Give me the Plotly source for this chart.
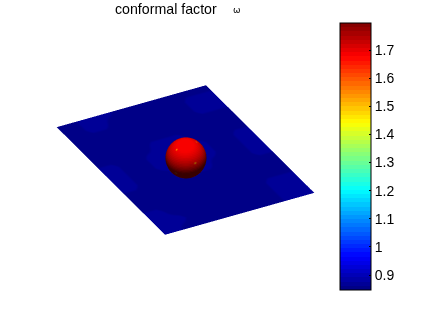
import numpy as np
import plotly.graph_objects as go

# colour values read from the plane, rows run from the top-right edge to the bottom-left edge
PLANE_VALUES = [
    [.85,.85,.87,.87,.87,.85,.85,.85,.85,.85,.85,.85,.85],
    [.85,.85,.87,.87,.85,.85,.85,.85,.85,.85,.87,.87,.87],
    [.85,.85,.85,.85,.85,.85,.85,.85,.85,.85,.87,.87,.87],
    [.85,.85,.85,.85,.85,.85,.85,.85,.85,.85,.85,.85,.85],
    [.85,.85,.85,.85,.85,.87,.87,.87,.85,.85,.85,.85,.85],
    [.87,.87,.85,.85,.87,.87,.87,.87,.87,.85,.85,.87,.87],
    [.87,.87,.85,.85,.87,.87,.87,.87,.87,.85,.85,.87,.87],
    [.87,.87,.85,.85,.85,.87,.87,.87,.85,.85,.85,.87,.87],
    [.85,.85,.85,.85,.85,.85,.85,.85,.85,.85,.85,.85,.85],
    [.85,.85,.85,.85,.85,.85,.85,.85,.85,.85,.85,.85,.85],
    [.87,.87,.85,.85,.85,.85,.85,.85,.85,.85,.87,.87,.87],
    [.87,.87,.87,.85,.85,.85,.85,.85,.85,.85,.87,.87,.87],
    [.87,.87,.85,.85,.85,.85,.85,.85,.85,.85,.87,.87,.87],
]
PLANE_X = [-.733,-.611,-.489,-.367,-.244,-.122,0,.122,.244,.367,.489,.611,.733]
PLANE_Y = [1,.833,.667,.5,.333,.167,0,-.167,-.333,-.5,-.667,-.833,-1]
PLANE_Z = [[0]*13]*13

SPHERE_VALUE = 1.675
SPHERE_SPECK_VALUE = 1.5
SPHERE_SPECK_CELLS = [(27, 9), (3, 7), (15, 17), (25, 25)]
SPHERE_CENTER = [-.12, -.234, .185]
SPHERE_RADIUS = .178

CMIN, CMAX = .847, 1.796
TICK_VALUES = [.9, 1, 1.1, 1.2, 1.3, 1.4, 1.5, 1.6, 1.7]
TICK_LABELS = ["0.9", "1", "1.1", "1.2", "1.3", "1.4", "1.5", "1.6", "1.7"]
TITLE = "conformal factor"
SYMBOL = "ω"


def jet_step_scale(n=64):
    def ch(t):
        return min(1, max(0, 1.5 - abs(4 * t)))
    scale = []
    for i in range(n):
        t = (i + .5) / n
        r, g, b = ch(t - .75), ch(t - .5), ch(t - .25)
        c = f"rgb({round(r*255)},{round(g*255)},{round(b*255)})"
        scale += [[i / n, c], [(i + 1) / n, c]]
    return scale


JET = jet_step_scale()

u = np.linspace(2 * np.pi, 0, 61)
v = np.linspace(0, np.pi, 41)
sx = SPHERE_CENTER[0] + SPHERE_RADIUS * np.outer(np.cos(u), np.sin(v))
sy = SPHERE_CENTER[1] + SPHERE_RADIUS * np.outer(np.sin(u), np.sin(v))
sz = SPHERE_CENTER[2] + SPHERE_RADIUS * np.outer(np.ones_like(u), np.cos(v))
sc = np.full_like(sx, SPHERE_VALUE)
for i, j in SPHERE_SPECK_CELLS:
    sc[i, j] = SPHERE_SPECK_VALUE

fig = go.Figure()
fig.add_trace(go.Surface(
    x=PLANE_X, y=PLANE_Y, z=PLANE_Z, surfacecolor=PLANE_VALUES,
    colorscale=JET, cmin=CMIN, cmax=CMAX, showscale=True,
    lighting=dict(ambient=1, diffuse=0, specular=0, fresnel=0),
    colorbar=dict(
        x=340/436, xanchor="left", xref="paper", y=1-23/327, yanchor="top", yref="paper",
        len=267/327, lenmode="fraction", thickness=31, thicknessmode="pixels",
        tickmode="array", tickvals=TICK_VALUES, ticktext=TICK_LABELS,
        ticks="inside", ticklen=2, tickcolor="black", outlinecolor="black", outlinewidth=1,
        borderwidth=0, xpad=0, ypad=0,
        tickfont=dict(family="Liberation Sans", size=14, color="black"),
    ),
))
fig.add_trace(go.Surface(
    x=sx, y=sy, z=sz, surfacecolor=sc,
    colorscale=JET, cmin=CMIN, cmax=CMAX, showscale=False,
    lighting=dict(ambient=.22, diffuse=.85, specular=0, roughness=.6, fresnel=0),
    lightposition=dict(x=187, y=830, z=-520),
))

R = 1.38
K = 1.452
th, el = np.radians(28), np.radians(31.9)
fig.update_layout(
    width=436, height=327, autosize=False,
    margin=dict(l=0, r=0, t=0, b=0), paper_bgcolor="white", showlegend=False,
    scene=dict(
        domain=dict(x=[0, 371/436], y=[8/327, 326/327]),
        xaxis=dict(visible=False, range=[-.733, .733]),
        yaxis=dict(visible=False, range=[-1, 1]),
        zaxis=dict(visible=False, range=[-.4, .4]),
        aspectmode="manual", aspectratio=dict(x=.733*K, y=1*K, z=.4*K),
        camera=dict(
            projection=dict(type="orthographic"),
            eye=dict(x=-np.sin(th)*np.cos(el)*R, y=-np.cos(th)*np.cos(el)*R, z=np.sin(el)*R),
            up=dict(x=0, y=0, z=1), center=dict(x=0, y=0, z=0),
        ),
    ),
    annotations=[
        dict(text=TITLE, x=166/436, y=1-9/327, xref="paper", yref="paper", showarrow=False,
             xanchor="center", yanchor="middle", font=dict(family="Liberation Sans", size=14.2, color="black")),
        dict(text=SYMBOL, x=237/436, y=1-10/327, xref="paper", yref="paper", showarrow=False,
             xanchor="center", yanchor="middle", font=dict(family="DejaVu Sans", size=9, color="black")),
    ],
)
fig.write_html("out.html", config=dict(displayModeBar=False),
               post_script="document.body.style.margin='0';document.body.style.overflow='hidden';")
